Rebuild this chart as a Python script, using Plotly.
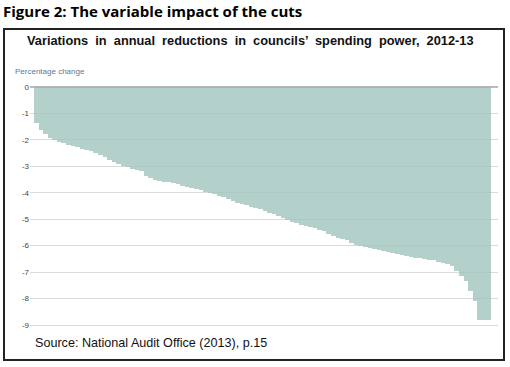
import plotly.graph_objects as go

# Sorted annual reduction in spending power per council (percentage change)
values = [
    -1.35, -1.62, -1.76, -1.93, -2.00, -2.07, -2.12, -2.18, -2.23, -2.28,
    -2.33, -2.38, -2.43, -2.49, -2.56, -2.66, -2.75, -2.83, -2.91, -2.99,
    -3.04, -3.09, -3.14, -3.19, -3.35, -3.45, -3.52, -3.55, -3.58, -3.61,
    -3.64, -3.68, -3.73, -3.78, -3.82, -3.86, -3.91, -3.96, -4.00, -4.06,
    -4.12, -4.17, -4.24, -4.31, -4.37, -4.42, -4.47, -4.52, -4.56, -4.62,
    -4.68, -4.75, -4.81, -4.87, -4.95, -5.02, -5.09, -5.15, -5.20, -5.25,
    -5.30, -5.35, -5.39, -5.44, -5.55, -5.64, -5.70, -5.75, -5.80, -5.90,
    -5.97, -6.01, -6.05, -6.09, -6.12, -6.16, -6.20, -6.25, -6.29, -6.33,
    -6.36, -6.39, -6.43, -6.45, -6.48, -6.50, -6.53, -6.56, -6.60, -6.64,
    -6.68, -6.76, -6.95, -7.15, -7.33, -7.70, -8.10, -8.80, -8.80, -8.80,
]
councils = list(range(len(values)))
tick_vals = [0, -1, -2, -3, -4, -5, -6, -7, -8, -9]
tick_text = [str(v) for v in tick_vals]

fig = go.Figure()
fig.add_trace(go.Bar(
    x=councils, y=values,
    marker=dict(color="rgba(161,196,189,0.8)", line=dict(width=0)),
    hoverinfo="skip",
))

W, H = 510, 367
L, R, T, B = 30, 12, 84, 39
pw, ph = W - L - R, H - T - B

def px_x(x):
    return (x - L) / pw

def px_y(y):
    return (H - B - y) / ph

fig.update_layout(
    width=W, height=H,
    margin=dict(l=L, r=R, t=T, b=B),
    paper_bgcolor="white", plot_bgcolor="white",
    showlegend=False, bargap=0,
    font=dict(family="Liberation Sans, Arial, sans-serif", color="#000"),
    xaxis=dict(range=[-1.375, 101.03], showgrid=False, showticklabels=False,
               zeroline=False, showline=False, ticks=""),
    yaxis=dict(range=[-9.113, 0.113], tickvals=tick_vals, ticktext=tick_text,
               showgrid=True, gridcolor="#dadada", gridwidth=1,
               zeroline=False, showline=False, ticks="",
               tickfont=dict(size=8, color="#444", family="Liberation Sans, Arial, sans-serif")),
    shapes=[
        dict(type="line", xref="paper", yref="y", x0=0, x1=1, y0=0, y1=0,
             line=dict(color="#a8a8a8", width=1.5), layer="above"),
        dict(type="rect", xref="paper", yref="paper",
             x0=px_x(4), x1=px_x(504), y0=px_y(360), y1=px_y(29),
             line=dict(color="#222", width=2), fillcolor="rgba(0,0,0,0)", layer="above"),
    ],
    annotations=[
        dict(text="<b>Figure 2: The variable impact of the cuts</b>",
             xref="paper", yref="paper", x=px_x(1), y=px_y(11),
             xanchor="left", yanchor="middle", showarrow=False,
             font=dict(size=15, family="Open Sans, sans-serif", color="#000")),
        dict(text="<b>Variations  in  annual  reductions  in  councils’  spending  power,  2012-13</b>",
             xref="paper", yref="paper", x=px_x(250), y=px_y(41),
             xanchor="center", yanchor="middle", showarrow=False,
             font=dict(size=12.8, family="Liberation Sans, Arial, sans-serif", color="#111")),
        dict(text="Percentage change",
             xref="paper", yref="paper", x=px_x(13), y=px_y(72),
             xanchor="left", yanchor="middle", showarrow=False,
             font=dict(size=8, family="Liberation Sans, Arial, sans-serif", color="#5a7898")),
        dict(text="Source: National Audit Office (2013), p.15",
             xref="paper", yref="paper", x=px_x(33), y=px_y(343),
             xanchor="left", yanchor="middle", showarrow=False,
             font=dict(size=12.6, family="Liberation Sans, Arial, sans-serif", color="#111")),
    ],
)

fig.write_html("out.html", config={"displayModeBar": False},
               post_script="document.body.style.margin='0';")
